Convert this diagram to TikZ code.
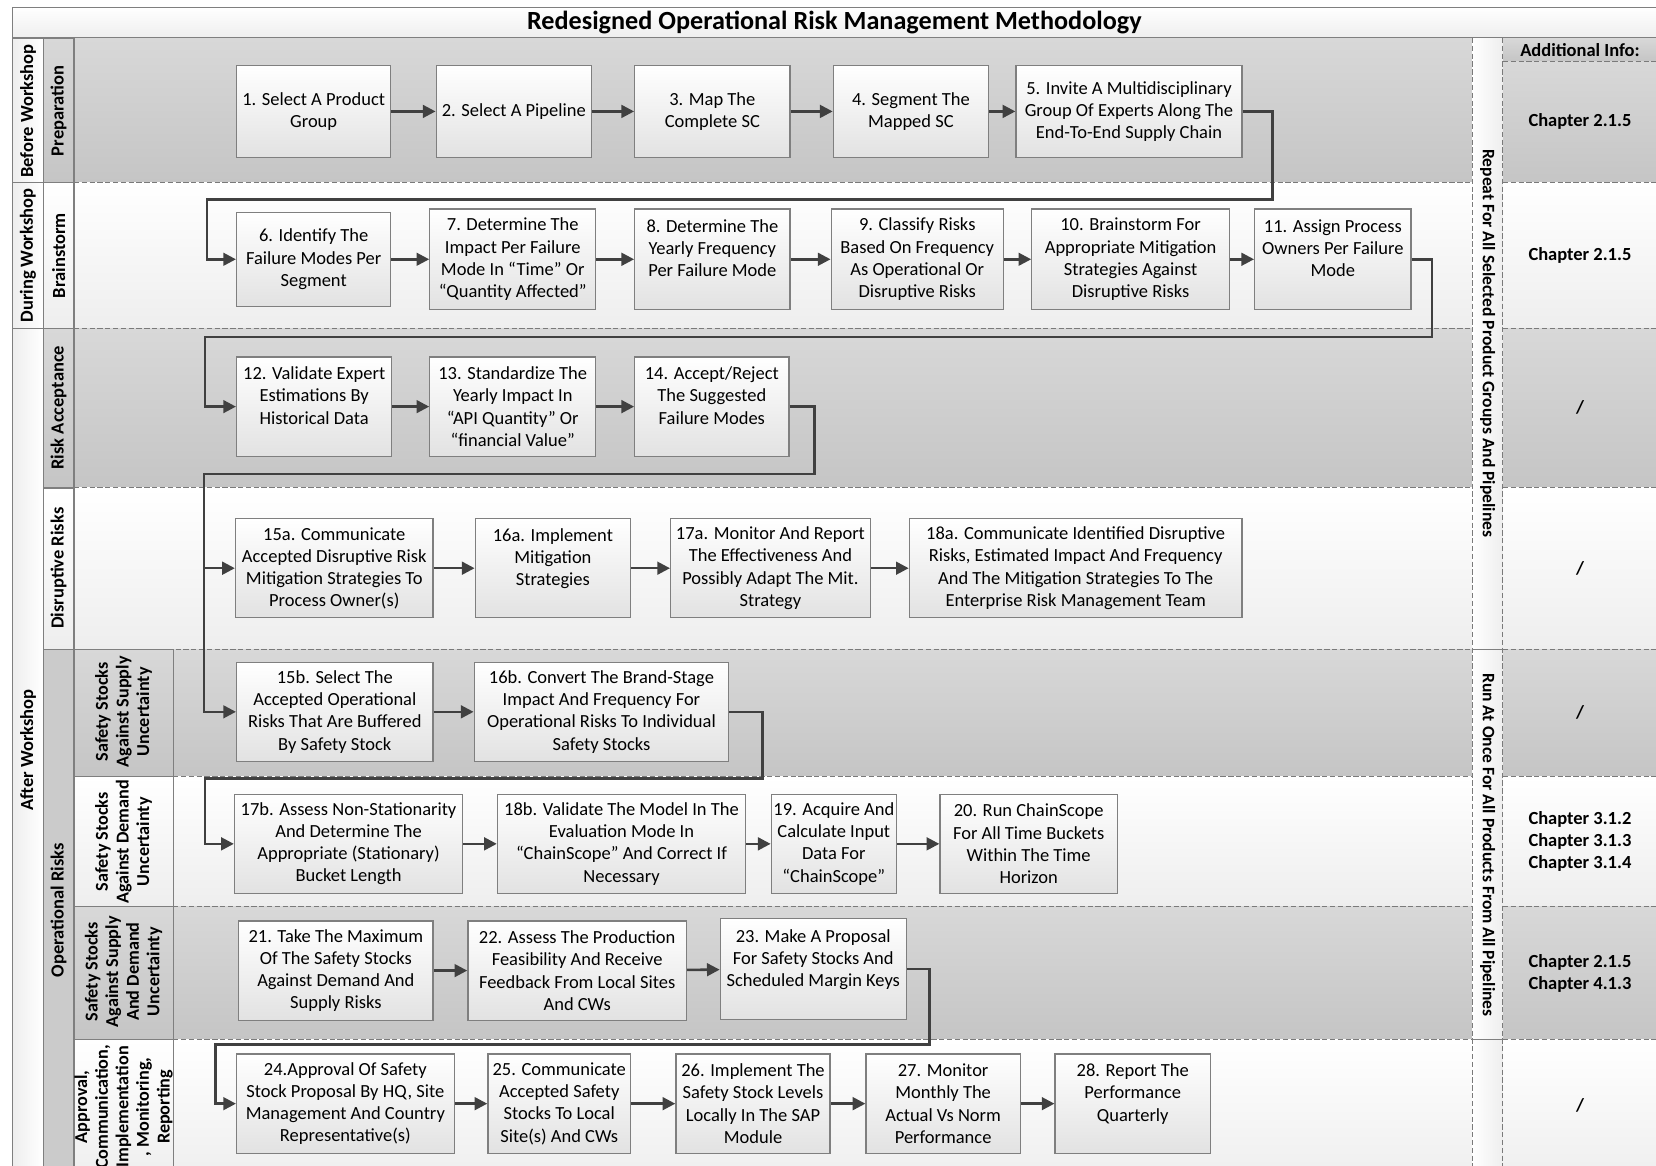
\documentclass[tikz,border=0pt]{standalone}
\usepackage{fontspec}
\setmainfont{Carlito}
\usetikzlibrary{arrows.meta}
\definecolor{frameC}{HTML}{7F7F7F}
\definecolor{laneTop}{HTML}{D8D8D8}
\definecolor{laneBot}{HTML}{C5C5C5}
\definecolor{wBot}{HTML}{EEEEEE}
\definecolor{boxBot}{HTML}{E2E2E2}
\definecolor{arrowC}{HTML}{404040}
\definecolor{dashC}{HTML}{7A7A7A}
\definecolor{opGray}{HTML}{CBCBCB}
\newcommand{\flowbox}[6]{\node[stepbox,minimum width=#4*0.5pt,minimum height=#5*0.5pt] (#1) at (#2,#3) {#6};}
\begin{document}
\begin{tikzpicture}[x=0.5pt,y=-0.5pt,
  graylane/.style={top color=laneTop,bottom color=laneBot},
  whitelane/.style={top color=white,bottom color=wBot},
  cellg/.style={top color=laneTop,bottom color=laneBot,draw=frameC,line width=0.6pt},
  cellw/.style={top color=white,bottom color=wBot,draw=frameC,line width=0.6pt},
  cella/.style={left color=wBot,right color=white,draw=frameC,line width=0.6pt},
  bandcell/.style={left color=white,right color=wBot},
  lanesep/.style={draw=dashC,line width=0.5pt,dash pattern=on 2.5pt off 1.2pt},
  stepbox/.style={draw=frameC,line width=0.6pt,top color=white,bottom color=boxBot,align=center,inner sep=1pt,font=\fontsize{8.75}{10.5}\selectfont},
  conn/.style={draw=arrowC,line width=1.2pt,-{Triangle[length=6pt,width=6pt]}},
  lab/.style={font=\fontsize{8.75}{10.5}\selectfont\bfseries,align=center,inner sep=0pt},
  labband/.style={font=\fontsize{8.3}{10}\selectfont\bfseries,align=center,inner sep=0pt},
  labc/.style={font=\fontsize{8.6}{9.75}\selectfont\bfseries,align=center,inner sep=0pt}
]
\useasboundingbox (0,0) rectangle (1568,1104);
\clip (0,0) rectangle (1568,1104);

% title band
\path[top color=white,bottom color=wBot] (12,7) rectangle (1600,36);
\draw[frameC,line width=0.7pt] (1600,7) -- (12,7) -- (12,1120);
\draw[frameC,line width=0.7pt] (12,36) -- (1600,36);
\node[font=\fontsize{12.4}{14}\selectfont\bfseries,inner sep=0pt] (title) at (790,21) {Redesigned Operational Risk Management Methodology};

% lanes main area
\path[graylane] (70,36) rectangle (1394,173);
\path[whitelane] (70,173) rectangle (1394,311);
\path[graylane] (70,311) rectangle (1394,462);
\path[whitelane] (70,462) rectangle (1394,615);
\path[graylane] (164,615) rectangle (1394,735);
\path[whitelane] (164,735) rectangle (1394,858);
\path[graylane] (164,858) rectangle (1394,984);
\path[whitelane] (164,984) rectangle (1394,1120);

% info column
\path[graylane] (1423,36) rectangle (1600,58);
\path[graylane] (1423,58) rectangle (1600,173);
\path[whitelane] (1423,173) rectangle (1600,311);
\path[graylane] (1423,311) rectangle (1600,462);
\path[whitelane] (1423,462) rectangle (1600,615);
\path[graylane] (1423,615) rectangle (1600,735);
\path[whitelane] (1423,735) rectangle (1600,858);
\path[graylane] (1423,858) rectangle (1600,984);
\path[whitelane] (1423,984) rectangle (1600,1120);

% band
\path[bandcell] (1394,36) rectangle (1423,615);
\path[bandcell] (1394,615) rectangle (1423,984);
\path[bandcell] (1394,984) rectangle (1423,1120);

% dashed separators
\foreach \yy in {173,311,462,615}{\draw[lanesep] (70,\yy) -- (1394,\yy);}
\foreach \yy in {735,858,984}{\draw[lanesep] (164,\yy) -- (1394,\yy);}
\foreach \yy in {58,173,311,462,615,735,858,984}{\draw[lanesep] (1423,\yy) -- (1600,\yy);}
\draw[lanesep] (1394,36) -- (1394,1120);
\draw[lanesep] (1423,36) -- (1423,1120);
\draw[frameC,line width=0.7pt] (1394,615) -- (1423,615);
\draw[frameC,line width=0.7pt] (1394,984) -- (1423,984);

% left columns
\path[cella] (12,36) rectangle (41,173);
\path[cella] (12,173) rectangle (41,311);
\path[cella] (12,311) rectangle (41,1120);
\path[cellg] (41,36) rectangle (70,173);
\path[cellw] (41,173) rectangle (70,311);
\path[cellg] (41,311) rectangle (70,462);
\path[cellw] (41,462) rectangle (70,615);
\path[fill=opGray,draw=frameC,line width=0.6pt] (41,615) rectangle (70,1120);
\path[cellg] (70,615) rectangle (164,735);
\path[cellw] (70,735) rectangle (164,858);
\path[cellg] (70,858) rectangle (164,984);
\path[cellw] (70,984) rectangle (164,1120);

\node[lab,rotate=90] (lbw) at (26.5,105) {Before Workshop};
\node[lab,rotate=90] (ldw) at (26.5,242) {During Workshop};
\node[lab,rotate=90] (law) at (26.5,710) {After Workshop};
\node[lab,rotate=90] (lpr) at (55.5,105) {Preparation};
\node[lab,rotate=90] (lbr) at (55.5,242) {Brainstorm};
\node[lab,rotate=90] (lra) at (55.5,386) {Risk Acceptance};
\node[lab,rotate=90] (ldr) at (55.5,538) {Disruptive Risks};
\node[lab,rotate=90] (lor) at (55.5,862) {Operational Risks};
\node[labc,rotate=90] (lc1) at (117,674) {Safety Stocks\\Against Supply\\Uncertainty};
\node[labc,rotate=90] (lc2) at (117,797) {Safety Stocks\\Against Demand\\Uncertainty};
\node[labc,rotate=90] (lc3) at (117,920) {Safety Stocks\\Against Supply\\And Demand\\Uncertainty};
\node[labc,rotate=90] (lc4) at (117,1048) {Approval,\\Communication,\\Implementation\\, Monitoring,\\Reporting};

% band texts
\node[labband,rotate=-90] (rep) at (1408.5,325) {Repeat For All Selected Product Groups And Pipelines};
\node[labband,rotate=-90] (run) at (1408.5,800) {Run At Once For All Products From All Pipelines};

% info texts
\node[lab] (i0) at (1496,47) {Additional Info:};
\node[lab] (i1) at (1496,115) {Chapter 2.1.5};
\node[lab] (i2) at (1496,242) {Chapter 2.1.5};
\node[lab] (i3) at (1496,386) {/};
\node[lab] (i4) at (1496,538) {/};
\node[lab] (i5) at (1496,675) {/};
\node[lab] (i6) at (1496,797) {Chapter 3.1.2\\Chapter 3.1.3\\Chapter 3.1.4};
\node[lab] (i7) at (1496,922) {Chapter 2.1.5\\Chapter 4.1.3};
\node[lab] (i8) at (1496,1047) {/};

% boxes
\flowbox{b1}{297}{105.5}{146}{87}{1. Select A Product\\Group}
\flowbox{b2}{486.5}{105.5}{147}{87}{2. Select A Pipeline}
\flowbox{b3}{674.5}{105.5}{147}{87}{3. Map The\\Complete SC}
\flowbox{b4}{862.5}{105.5}{147}{87}{4. Segment The\\Mapped SC}
\flowbox{b5}{1069}{105.5}{214}{87}{5. Invite A Multidisciplinary\\Group Of Experts Along The\\End-To-End Supply Chain}

\flowbox{b6}{297}{245.5}{146}{89}{6. Identify The\\Failure Modes Per\\Segment}
\flowbox{b7}{485.5}{245.5}{157}{95}{7. Determine The\\Impact Per Failure\\Mode In “Time” Or\\“Quantity Affected”}
\flowbox{b8}{674.5}{245.5}{147}{95}{8. Determine The\\Yearly Frequency\\Per Failure Mode\\\mbox{}}
\flowbox{b9}{868.5}{245.5}{163}{95}{9. Classify Risks\\Based On Frequency\\As Operational Or\\Disruptive Risks}
\flowbox{b10}{1070.5}{245.5}{187}{95}{10. Brainstorm For\\Appropriate Mitigation\\Strategies Against\\Disruptive Risks}
\flowbox{b11}{1262}{245.5}{148}{95}{11. Assign Process\\Owners Per Failure\\Mode\\\mbox{}}

\flowbox{b12}{297.5}{385}{147}{94}{12. Validate Expert\\Estimations By\\Historical Data\\\mbox{}}
\flowbox{b13}{485.5}{385}{157}{94}{13. Standardize The\\Yearly Impact In\\“API Quantity” Or\\“financial Value”}
\flowbox{b14}{674}{385}{146}{94}{14. Accept/Reject\\The Suggested\\Failure Modes\\\mbox{}}

\flowbox{b15a}{316.5}{538}{187}{94}{15a. Communicate\\Accepted Disruptive Risk\\Mitigation Strategies To\\Process Owner(s)}
\flowbox{b16a}{523.5}{538}{147}{94}{16a. Implement\\Mitigation\\Strategies\\\mbox{}}
\flowbox{b17a}{729.5}{538}{189}{94}{17a. Monitor And Report\\The Effectiveness And\\Possibly Adapt The Mit.\\Strategy}
\flowbox{b18a}{1018.5}{538}{315}{94}{18a. Communicate Identified Disruptive\\Risks, Estimated Impact And Frequency\\And The Mitigation Strategies To The\\Enterprise Risk Management Team}

\flowbox{b15b}{317}{674}{186}{94}{15b. Select The\\Accepted Operational\\Risks That Are Buffered\\By Safety Stock}
\flowbox{b16b}{569.5}{674}{241}{94}{16b. Convert The Brand-Stage\\Impact And Frequency For\\Operational Risks To Individual\\Safety Stocks}

\flowbox{b17b}{330}{799}{216}{94}{17b. Assess Non-Stationarity\\And Determine The\\Appropriate (Stationary)\\Bucket Length}
\flowbox{b18b}{588.5}{799}{235}{94}{18b. Validate The Model In The\\Evaluation Mode In\\“ChainScope” And Correct If\\Necessary}
\flowbox{b19}{789.5}{799}{111}{94}{19. Acquire And\\Calculate Input\\Data For\\“ChainScope”}
\flowbox{b20}{974}{799}{168}{94}{20. Run ChainScope\\For All Time Buckets\\Within The Time\\Horizon}

\flowbox{b21}{318}{919}{184}{94}{21. Take The Maximum\\Of The Safety Stocks\\Against Demand And\\Supply Risks}
\flowbox{b22}{546.5}{919}{207}{94}{22. Assess The Production\\Feasibility And Receive\\Feedback From Local Sites\\And CWs}
\flowbox{b23}{770}{917.5}{176}{95}{23. Make A Proposal\\For Safety Stocks And\\Scheduled Margin Keys\\\mbox{}}

\flowbox{b24}{327}{1045}{206}{94}{24.Approval Of Safety\\Stock Proposal By HQ, Site\\Management And Country\\Representative(s)}
\flowbox{b25}{529.5}{1045}{135}{94}{25. Communicate\\Accepted Safety\\Stocks To Local\\Site(s) And CWs}
\flowbox{b26}{713}{1045}{146}{94}{26. Implement The\\Safety Stock Levels\\Locally In The SAP\\Module}
\flowbox{b27}{893}{1045}{146}{94}{27. Monitor\\Monthly The\\Actual Vs Norm\\Performance}
\flowbox{b28}{1072.5}{1045}{147}{94}{28. Report The\\Performance\\Quarterly\\\mbox{}}

% straight arrows
\draw[conn] (b1) -- (b2);
\draw[conn] (b2) -- (b3);
\draw[conn] (b3) -- (b4);
\draw[conn] (b4) -- (b5);
\draw[conn] (b6) -- (b7);
\draw[conn] (b7) -- (b8);
\draw[conn] (b8) -- (b9);
\draw[conn] (b9) -- (b10);
\draw[conn] (b10) -- (b11);
\draw[conn] (b12) -- (b13);
\draw[conn] (b13) -- (b14);
\draw[conn] (b15a) -- (b16a);
\draw[conn] (b16a) -- (b17a);
\draw[conn] (b17a) -- (b18a);
\draw[conn] (b15b) -- (b16b);
\draw[conn] (b17b) -- (b18b);
\draw[conn] (b18b) -- (b19);
\draw[conn] (b19) -- (b20);
\draw[conn] (b21) -- (b22);
\draw[conn] (b22) -- (b23);
\draw[conn] (b24) -- (b25);
\draw[conn] (b25) -- (b26);
\draw[conn] (b26) -- (b27);
\draw[conn] (b27) -- (b28);

% wrap-around connectors
\coordinate (k5) at (1205,189);
\coordinate (k6) at (196,189);
\coordinate (k11) at (1356,319);
\coordinate (k12) at (194,319);
\coordinate (k14) at (771,449);
\coordinate (k15) at (193,449);
\coordinate (k16) at (722,737);
\coordinate (k17) at (194,737);
\coordinate (k23) at (880,989);
\coordinate (k24) at (204,989);
\draw[conn] (b5.east) -| (k5) -- (k6) |- (b6.west);
\draw[conn] (b11.east) -| (k11) -- (k12) |- (b12.west);
\draw[conn] (b14.east) -| (k14) -- (k15) |- (b15a.west);
\draw[conn] (k15) |- (b15b.west);
\draw[conn] (b16b.east) -| (k16) -- (k17) |- (b17b.west);
\draw[conn] (b23.east) -| (k23) -- (k24) |- (b24.west);
\end{tikzpicture}
\end{document}
